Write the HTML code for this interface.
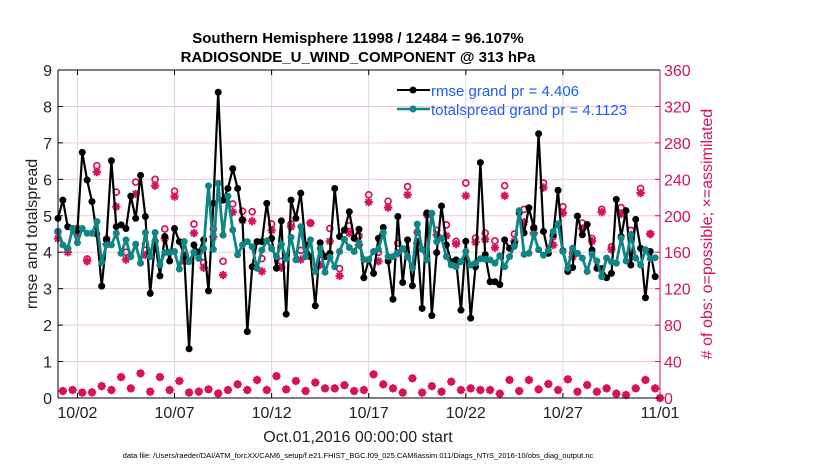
<!DOCTYPE html>
<html><head><meta charset="utf-8"><style>
body{margin:0;background:#fff;width:830px;height:470px;overflow:hidden}
svg{font-family:"Liberation Sans",sans-serif}
</style></head><body>
<svg id="chart" width="830" height="470" viewBox="0 0 830 470" xmlns="http://www.w3.org/2000/svg">
<rect width="830" height="470" fill="#fff"/>
<g id="grid"></g>
<g id="marks"></g>
<g id="axes"></g>
<text x="358" y="43" text-anchor="middle" font-size="15" font-weight="bold">Southern Hemisphere 11998 / 12484 = 96.107%</text>
<text x="358" y="62" text-anchor="middle" font-size="15" font-weight="bold">RADIOSONDE_U_WIND_COMPONENT @ 313 hPa</text>
<text x="358" y="442" text-anchor="middle" font-size="16" fill="#222">Oct.01,2016 00:00:00 start</text>
<text transform="translate(37,234) rotate(-90)" text-anchor="middle" font-size="16" fill="#222">rmse and totalspread</text>
<text transform="translate(712,234) rotate(-90)" text-anchor="middle" font-size="16" fill="#d6125a"># of obs: o=possible; ×=assimilated</text>
<text x="358" y="458" text-anchor="middle" font-size="7.5" fill="#000">data file: /Users/raeder/DAI/ATM_forcXX/CAM6_setup/f.e21.FHIST_BGC.f09_025.CAM6assim.011/Diags_NTrS_2016-10/obs_diag_output.nc</text>
<g>
<line x1="397" y1="90" x2="430" y2="90" stroke="#000" stroke-width="2"/><circle cx="413" cy="90" r="3.5" fill="#000"/>
<text x="431" y="96" font-size="15" fill="#1a5cff">rmse grand pr = 4.406</text>
<line x1="397" y1="109" x2="430" y2="109" stroke="#0f8585" stroke-width="2.5"/><circle cx="413" cy="109" r="3.5" fill="#0f8585"/>
<text x="431" y="115" font-size="15" fill="#1a5cff">totalspread grand pr = 4.1123</text>
</g>
</svg>
<script>
const rmse=[4.93,5.43,4.7,4.65,4.6,6.74,5.98,5.39,4.5,3.07,4.34,6.51,4.7,4.75,4.65,5.54,4.93,6.11,4.98,2.87,4.3,3.35,4.43,3.76,4.65,4.29,3.9,1.35,4.2,4.0,4.34,2.94,5.34,8.39,5.43,5.75,6.29,5.75,4.89,1.82,3.6,4.29,4.29,5.34,4.38,3.56,4.86,2.3,5.43,4.93,5.62,4.2,3.88,2.53,4.26,3.88,3.97,5.75,4.43,4.61,5.11,4.38,4.63,3.3,3.79,3.42,4.38,4.68,3.76,2.71,4.98,3.17,4.34,3.08,4.29,2.46,5.07,2.26,3.99,5.27,4.2,3.74,3.79,2.41,4.3,2.19,3.6,6.46,3.93,3.19,3.19,3.11,4.34,4.11,4.25,5.08,4.53,5.22,4.66,7.25,4.57,3.97,4.48,5.7,4.04,3.47,3.58,4.99,4.48,4.76,4.06,3.56,3.55,3.3,3.42,5.45,4.43,5.14,3.65,4.9,4.11,2.75,4.02,3.33,null];
const spread=[4.57,4.2,4.1,4.65,4.26,4.65,4.52,4.52,4.84,3.72,4.2,4.2,4.52,3.97,4.34,3.88,4.22,3.7,4.54,3.88,4.54,3.65,3.99,4.0,4.02,3.54,4.29,3.74,4.0,3.83,4.1,5.82,4.08,5.89,4.47,5.54,4.61,3.93,4.2,4.29,4.15,3.56,4.06,4.31,4.1,3.88,4.22,3.82,4.41,3.79,4.7,3.88,4.34,3.47,4.1,3.45,3.86,3.6,4.02,4.35,4.13,4.02,4.26,3.8,3.8,4.02,4.08,4.54,3.88,3.88,3.99,4.1,3.88,3.56,4.77,4.08,3.79,5.07,4.29,4.38,3.88,3.65,3.6,3.74,4.02,3.65,3.7,3.82,3.81,3.79,3.7,3.9,3.6,3.88,4.16,5.14,3.94,3.97,4.5,4.07,3.92,4.05,4.57,4.78,4.02,3.56,4.11,3.97,3.84,3.47,3.94,3.76,3.33,3.84,3.74,3.7,4.39,3.76,4.48,3.84,3.65,4.07,3.82,3.85,null];
const possible=[182.6,7.7,164,8.8,186,5.9,152.6,6.2,255,13,174.5,8.8,226,23,160,10.6,237,27,168.7,7,240,23,185.5,8.8,227,18.7,157,6,191,7,148.5,9.5,185.5,5,150,8.8,213,15,205,8.8,204.5,19.8,153,8.8,191,24,150,9.5,191,18.7,162,7.7,192,17,151,10.6,186,10.6,142,14,189,7.7,178,8.8,223,26,160,15,216,10.6,170,5.9,232,21.6,182,5.9,203,13,184,6.9,190,17.9,172,8.8,236,10.6,175.5,8.8,181,8.8,172.5,4.8,233,19.8,180,7.7,207,19.8,187,9.5,236,15.4,177,8.8,210,20.5,159,6.9,192,14.3,175,6.9,207,10.6,166,4.8,209,3.3,184,10.6,230,19.8,180,10.6,0];
const assimEven=[175,160,181,150,248,169,210,152,224,157,233,175,221,150,181,143,177,135,204,195,194,139,184,143,188,152,192,146,172,134,181,168,215,150,209,159,223,170,201,179,178,169,222,171,174,165,222,172,193,181,231,168,203,155,186,172,204,163,202,179,225,180,0];
const assimilated=possible.map((p,i)=>i%2===0?assimEven[i/2]:p);
const xTickLabels=["10/02","10/07","10/12","10/17","10/22","10/27","11/01"];
const xTickDays=[1,6,11,16,21,26,31];
const yTicksL=[0,1,2,3,4,5,6,7,8,9];
const yTicksR=[0,40,80,120,160,200,240,280,320,360];

const X0=58,X1=660,Y0=398,Y1=70,NS="http://www.w3.org/2000/svg";
const xDay=d=>X0+(X1-X0)*d/31;
const xIdx=i=>xDay(i*0.25);
const yL=v=>Y0-(Y0-Y1)*v/9;
const yR=c=>Y0-(Y0-Y1)*c/360;
const PINK="#d6125a",TEAL="#0f8585";
function mk(tag,attrs,parent){const e=document.createElementNS(NS,tag);for(const k in attrs)e.setAttribute(k,attrs[k]);parent.appendChild(e);return e;}
const grid=document.getElementById('grid'),marks=document.getElementById('marks'),axes=document.getElementById('axes');
yTicksL.forEach(v=>{if(v>0&&v<9){const l=mk('line',{x1:X0,x2:X1,y1:yL(v),y2:yL(v),stroke:'#f3c6d6','stroke-width':1},grid);

}});
xTickDays.forEach((d,k)=>{const x=xDay(d);
if(d<31){const l=mk('line',{x1:x,x2:x,y1:Y0,y2:Y1,stroke:'#d8d8d8','stroke-width':1},grid);

}
mk('line',{x1:x,x2:x,y1:Y0,y2:Y0-5,stroke:'#000'},axes);
mk('line',{x1:x,x2:x,y1:Y1,y2:Y1+5,stroke:'#000'},axes);
const t=mk('text',{x:x,y:Y0+20,'text-anchor':'middle','font-size':16,fill:'#222'},axes);t.textContent=xTickLabels[k];

});
yTicksL.forEach(v=>{mk('line',{x1:X0,x2:X0+5,y1:yL(v),y2:yL(v),stroke:'#000'},axes);
const t=mk('text',{x:X0-6,y:yL(v)+6,'text-anchor':'end','font-size':16,fill:'#222'},axes);t.textContent=v;

});
yTicksR.forEach(c=>{mk('line',{x1:X1,x2:X1-5,y1:yR(c),y2:yR(c),stroke:PINK},axes);
const t=mk('text',{x:X1+4,y:yR(c)+6,'font-size':16,fill:PINK},axes);t.textContent=c;

});
mk('line',{x1:X0,x2:X1,y1:Y1,y2:Y1,stroke:'#000'},axes);
mk('line',{x1:X0,x2:X1,y1:Y0,y2:Y0,stroke:'#000'},axes);
mk('line',{x1:X0,x2:X0,y1:Y0,y2:Y1,stroke:'#000'},axes);
mk('line',{x1:X1,x2:X1,y1:Y0,y2:Y1,stroke:PINK},axes);
// obs markers
possible.forEach((p,i)=>{const x=xIdx(i);
const c=mk('circle',{cx:x,cy:yR(p),r:3,fill:'none',stroke:PINK,'stroke-width':1.7},marks);


const a=assimilated[i],y=yR(a),s=4.2;
const g=mk('g',{stroke:PINK,'stroke-width':2},marks);


mk('line',{x1:x-s,x2:x+s,y1:y,y2:y},g);mk('line',{x1:x,x2:x,y1:y-s,y2:y+s},g);
mk('line',{x1:x-s*.7,x2:x+s*.7,y1:y-s*.7,y2:y+s*.7},g);mk('line',{x1:x-s*.7,x2:x+s*.7,y1:y+s*.7,y2:y-s*.7},g);});
function series(arr,color,w,name){let d='';arr.forEach((v,i)=>{if(v==null)return;d+=(d?'L':'M')+xIdx(i).toFixed(1)+','+yL(v).toFixed(1);});
const p=mk('path',{d:d,fill:'none',stroke:color,'stroke-width':w,'stroke-linejoin':'round'},marks);


arr.forEach((v,i)=>{if(v==null)return;const c=mk('circle',{cx:xIdx(i),cy:yL(v),r:3.5,fill:color},marks);

});}
series(rmse,'#000',2.2,'rmse');
series(spread,TEAL,2.8,'totalspread');
</script>
</body></html>
